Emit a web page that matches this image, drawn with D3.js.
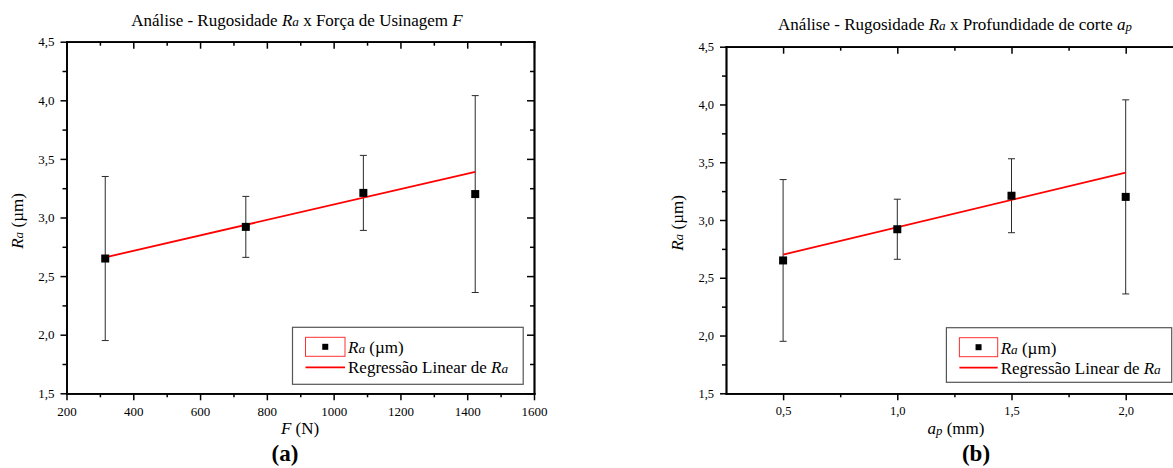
<!DOCTYPE html>
<html>
<head>
<meta charset="utf-8">
<script src="https://cdn.jsdelivr.net/npm/d3@7"></script>
<style>
  body { margin: 0; background: #fff; }
  svg text { font-family: "Liberation Serif", "Times New Roman", serif; fill: #000; }
</style>
</head>
<body>
<script>
// Les données
var forceN   = [316, 737, 1089, 1424];      // F (N)
var depthMm  = [0.5, 1.0, 1.5, 2.0];        // ap (mm)
var raMean   = [2.65, 2.92, 3.21, 3.20];    // Ra (um)
var raErr    = [0.70, 0.26, 0.32, 0.84];    // barre d'erreur +/-

// droites de régression (extrémités lues)
var fitForceX = [316, 1424];
var fitForceY = [2.66, 3.39];
var fitDepthX = [0.5, 2.0];
var fitDepthY = [2.70, 3.41];

// graduations
var forceTicks = [200, 400, 600, 800, 1000, 1200, 1400, 1600];
var forceMinor = [300, 500, 700, 900, 1100, 1300, 1500];
var depthTicks = [0.5, 1.0, 1.5, 2.0];
var depthMinor = [0.75, 1.25, 1.75];
var raTicks    = [1.5, 2.0, 2.5, 3.0, 3.5, 4.0, 4.5];
var raMinor    = [1.75, 2.25, 2.75, 3.25, 3.75, 4.25];

var svg = d3.select("body").append("svg")
            .attr("width", 1173)
            .attr("height", 468)
            .style("font-family", "'Liberation Serif', serif");

var comma = function(d) { return d3.format(".1f")(d).replace(".", ","); };

// texte avec morceaux en italique / plus petits
function richText(parent, x, y, parts, size, anchor) {
  var t = parent.append("text")
                .attr("x", x)
                .attr("y", y)
                .attr("font-size", size)
                .attr("text-anchor", anchor || "middle");
  parts.forEach(function(p) {
    var s = t.append("tspan").text(p.t);
    if (p.i) s.attr("font-style", "italic");
    if (p.s) s.attr("font-size", size * p.s);
    if (p.dy) s.attr("dy", p.dy);
  });
  return t;
}

var raParts = [{t: "R", i: true}, {t: "a", i: true, s: 0.78}];

function panel(cfg) {
  var g = svg.append("g");

  var x = d3.scaleLinear().domain(cfg.xDomain).range([cfg.left, cfg.right]);
  var y = d3.scaleLinear().domain([1.5, 4.5]).range([cfg.bottom, cfg.top]);

  // axes : bas et gauche vers l'extérieur, haut et droite vers l'intérieur
  function styleAxis(sel) {
    sel.attr("font-family", null).attr("font-size", null);
    sel.select(".domain").attr("stroke-width", 1.7).attr("stroke-linecap", "square");
    sel.selectAll(".tick line").attr("stroke-width", 1.5);
    sel.selectAll(".tick text").attr("font-size", cfg.tickFont);
  }

  var axes = [
    {a: d3.axisBottom(x).tickValues(cfg.xTicks).tickFormat(cfg.xFormat).tickSize(7).tickPadding(6), t: "translate(0," + cfg.bottom + ")"},
    {a: d3.axisBottom(x).tickValues(cfg.xMinor).tickFormat("").tickSize(4), t: "translate(0," + cfg.bottom + ")"},
    {a: d3.axisTop(x).tickValues(cfg.xTicks).tickFormat("").tickSize(-7), t: "translate(0," + cfg.top + ")"},
    {a: d3.axisTop(x).tickValues(cfg.xMinor).tickFormat("").tickSize(-4), t: "translate(0," + cfg.top + ")"},
    {a: d3.axisLeft(y).tickValues(raTicks).tickFormat(comma).tickSize(6).tickPadding(cfg.yPad), t: "translate(" + cfg.left + ",0)"},
    {a: d3.axisLeft(y).tickValues(raMinor).tickFormat("").tickSize(4), t: "translate(" + cfg.left + ",0)"},
    {a: d3.axisRight(y).tickValues(raTicks).tickFormat("").tickSize(-7), t: "translate(" + cfg.right + ",0)"},
    {a: d3.axisRight(y).tickValues(raMinor).tickFormat("").tickSize(-4), t: "translate(" + cfg.right + ",0)"}
  ];
  axes.forEach(function(ax) {
    g.append("g")
     .attr("transform", ax.t)
     .call(ax.a.tickSizeOuter(0))
     .call(styleAxis);
  });

  // barres d'erreur
  var pts = cfg.xVals.map(function(v, i) { return {x: v, m: raMean[i], e: raErr[i]}; });
  var eb = g.append("g").attr("stroke", "#2a2a2a").attr("stroke-width", 1);
  eb.selectAll(".stem").data(pts).enter().append("line")
    .attr("x1", d => x(d.x)).attr("x2", d => x(d.x))
    .attr("y1", d => y(d.m - d.e)).attr("y2", d => y(d.m + d.e));
  eb.selectAll(".capTop").data(pts).enter().append("line")
    .attr("x1", d => x(d.x) - 3.5).attr("x2", d => x(d.x) + 3.5)
    .attr("y1", d => y(d.m + d.e)).attr("y2", d => y(d.m + d.e));
  eb.selectAll(".capBot").data(pts).enter().append("line")
    .attr("x1", d => x(d.x) - 3.5).attr("x2", d => x(d.x) + 3.5)
    .attr("y1", d => y(d.m - d.e)).attr("y2", d => y(d.m - d.e));

  // droite de régression
  var fit = cfg.fitX.map(function(v, i) { return [v, cfg.fitY[i]]; });
  g.append("path")
   .attr("d", d3.line().x(d => x(d[0])).y(d => y(d[1]))(fit))
   .attr("fill", "none")
   .attr("stroke", "#ff0000")
   .attr("stroke-width", 1.8);

  // points
  g.selectAll(".pt").data(pts).enter().append("rect")
   .attr("x", d => x(d.x) - 4)
   .attr("y", d => y(d.m) - 4)
   .attr("width", 8)
   .attr("height", 8)
   .attr("fill", "#000");

  // légende
  var L = cfg.legend;
  g.append("rect")
   .attr("x", L.x).attr("y", L.y).attr("width", L.w).attr("height", L.h)
   .attr("fill", "#fff").attr("stroke", "#555").attr("stroke-width", 1.2);
  g.append("rect")
   .attr("x", L.x + 13).attr("y", L.y + 10).attr("width", L.sw).attr("height", 19)
   .attr("fill", "#fff").attr("stroke", "#ff3030").attr("stroke-width", 1);
  g.append("rect")
   .attr("x", L.x + 13 + L.sw / 2 - 3).attr("y", L.y + 16.5).attr("width", 6).attr("height", 6)
   .attr("fill", "#000");
  g.append("line")
   .attr("x1", L.x + 13).attr("x2", L.x + 13 + L.sw)
   .attr("y1", L.y + 40).attr("y2", L.y + 40)
   .attr("stroke", "#ff0000").attr("stroke-width", 1.8);
  richText(g, L.x + 16 + L.sw, L.y + 26, raParts.concat([{t: " (µm)"}]), 17, "start");
  richText(g, L.x + 16 + L.sw, L.y + 46, [{t: "Regressão Linear de "}].concat(raParts), 17, "start");

  // titres
  richText(g, cfg.titleX, cfg.titleY, cfg.title, 17);
  richText(g, cfg.xLabelX, 434, cfg.xLabel, 17);
  richText(g, 0, 0, raParts.concat([{t: " (µm)"}]), 17)
    .attr("transform", "translate(" + cfg.yLabelX + "," + cfg.yLabelY + ") rotate(-90)");

  g.append("text")
   .attr("x", cfg.letterX).attr("y", 461)
   .attr("text-anchor", "middle")
   .attr("font-size", 23)
   .attr("font-weight", "bold")
   .text(cfg.letter);
}

// (a) Ra x F
panel({
  left: 66.5, right: 534, top: 41.7, bottom: 393.3,
  xDomain: [200, 1600], xTicks: forceTicks, xMinor: forceMinor,
  xFormat: d3.format("d"), xVals: forceN,
  fitX: fitForceX, fitY: fitForceY,
  tickFont: 13, yPad: 6,
  title: [{t: "Análise - Rugosidade "}].concat(raParts, [{t: " x Força de Usinagem "}, {t: "F", i: true}]),
  titleX: 297, titleY: 26,
  xLabel: [{t: "F", i: true}, {t: " (N)"}], xLabelX: 300,
  yLabelX: 23, yLabelY: 221,
  legend: {x: 292.5, y: 327.3, w: 230.7, h: 57, sw: 39.5},
  letter: "(a)", letterX: 285
});

// (b) Ra x ap
panel({
  left: 726, right: 1182.8, top: 46.7, bottom: 393.3,
  xDomain: [0.25, 2.25], xTicks: depthTicks, xMinor: depthMinor,
  xFormat: comma, xVals: depthMm,
  fitX: fitDepthX, fitY: fitDepthY,
  tickFont: 12.5, yPad: 6,
  title: [{t: "Análise - Rugosidade "}].concat(raParts, [{t: " x Profundidade de corte "}, {t: "a", i: true}, {t: "p", i: true, s: 0.75, dy: 1}]),
  titleX: 955, titleY: 30,
  xLabel: [{t: "a", i: true}, {t: "p", i: true, s: 0.75, dy: 1}, {t: " (mm)", dy: -1}], xLabelX: 956,
  yLabelX: 683, yLabelY: 223,
  legend: {x: 946.4, y: 327.7, w: 225.3, h: 54.6, sw: 38.3},
  letter: "(b)", letterX: 976
});
</script>
</body>
</html>
